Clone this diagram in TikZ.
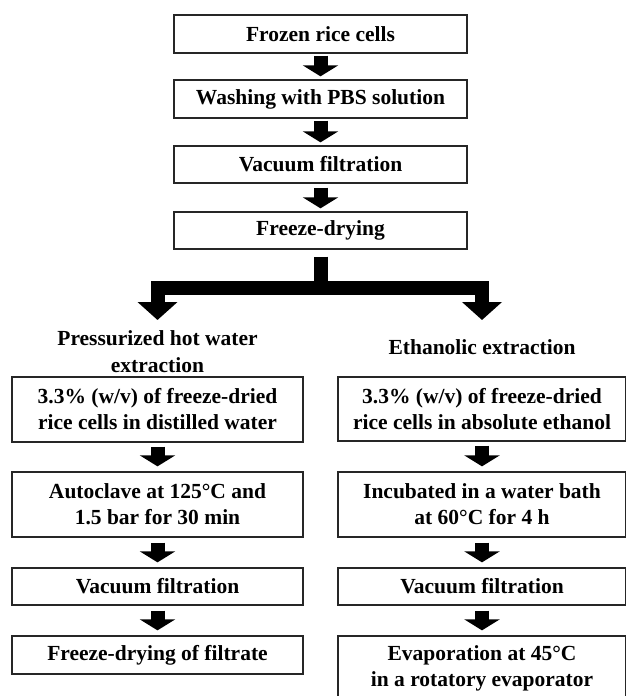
\documentclass[tikz,border=0pt]{standalone}
\usepackage{fontspec}
\setmainfont{Liberation Serif}
\usetikzlibrary{arrows.meta,calc}
\begin{document}
\begin{tikzpicture}[x=1pt,y=-1pt,
  stepbox/.style={draw=black!85,line width=1.3pt,inner sep=0pt,align=center,
    font=\fontsize{21.5}{26}\selectfont\bfseries},
  topbox/.style={stepbox,minimum width=293pt},
  lbox/.style={stepbox,minimum width=291pt},
  rbox/.style={stepbox,minimum width=288pt},
  ttl/.style={inner sep=0pt,align=center,font=\fontsize{21.5}{27}\selectfont\bfseries},
  blk/.style={line width=14pt,-{Triangle[width=35pt,length=11pt]}},
  bar/.style={line width=14pt,line join=miter}]
\useasboundingbox (0,0) rectangle (625,696);
% main column
\node[topbox,minimum height=38pt] (n1) at (320.5,34) {Frozen rice cells};
\node[topbox,minimum height=38pt] (n2) at (320.5,99) {Washing with PBS solution};
\node[topbox,minimum height=37pt] (n3) at (320.5,164.5) {Vacuum filtration};
\node[topbox,minimum height=37pt] (n4) at (320.5,230.5) {Freeze-drying};
\draw[blk] ([yshift=-2pt]n1.south) -- ([yshift=3pt]n2.north);
\draw[blk] ([yshift=-2pt]n2.south) -- ([yshift=3pt]n3.north);
\draw[blk] ([yshift=-4pt]n3.south) -- ([yshift=3pt]n4.north);
% titles
\node[ttl] (lt) at (157.5,351.5) {Pressurized hot water\\extraction};
\node[ttl] (rt) at (482,347) {Ethanolic extraction};
% branch
\coordinate (bstem) at ($(n4.south)+(0,38)$);
\coordinate (lend) at (157.5,320);
\coordinate (rend) at (482,320);
\draw[bar] ([yshift=-7pt]n4.south) -- ($(bstem)+(0,7)$);
\draw[bar,-{Triangle[width=39pt,length=18pt]}] ($(bstem)+(-7,0)$) -| (lend);
\draw[bar,-{Triangle[width=39pt,length=18pt]}] ($(bstem)+(7,0)$) -| (rend);
% left column
\node[lbox,minimum height=65pt] (l1) at (157.5,409.5) {3.3\% (w/v) of freeze-dried\\rice cells in distilled water};
\node[lbox,minimum height=65pt] (l2) at (157.5,504.5) {Autoclave at 125°C and\\1.5 bar for 30 min};
\node[lbox,minimum height=37pt] (l3) at (157.5,586.5) {Vacuum filtration};
\node[lbox,minimum height=38pt] (l4) at (157.5,655) {Freeze-drying of filtrate};
\draw[blk] ([yshift=-4pt]l1.south) -- ([yshift=5pt]l2.north);
\draw[blk] ([yshift=-5pt]l2.south) -- ([yshift=5pt]l3.north);
\draw[blk] ([yshift=-5pt]l3.south) -- ([yshift=5pt]l4.north);
% right column
\node[rbox,minimum height=64pt] (r1) at (482,409) {3.3\% (w/v) of freeze-dried\\rice cells in absolute ethanol};
\node[rbox,minimum height=65pt] (r2) at (482,504.5) {Incubated in a water bath\\at 60°C for 4 h};
\node[rbox,minimum height=37pt] (r3) at (482,586.5) {Vacuum filtration};
\node[rbox,minimum height=64pt] (r4) at (482,668) {Evaporation at 45°C\\in a rotatory evaporator};
\draw[blk] ([yshift=-4pt]r1.south) -- ([yshift=5pt]r2.north);
\draw[blk] ([yshift=-5pt]r2.south) -- ([yshift=5pt]r3.north);
\draw[blk] ([yshift=-5pt]r3.south) -- ([yshift=5pt]r4.north);
\end{tikzpicture}
\end{document}
